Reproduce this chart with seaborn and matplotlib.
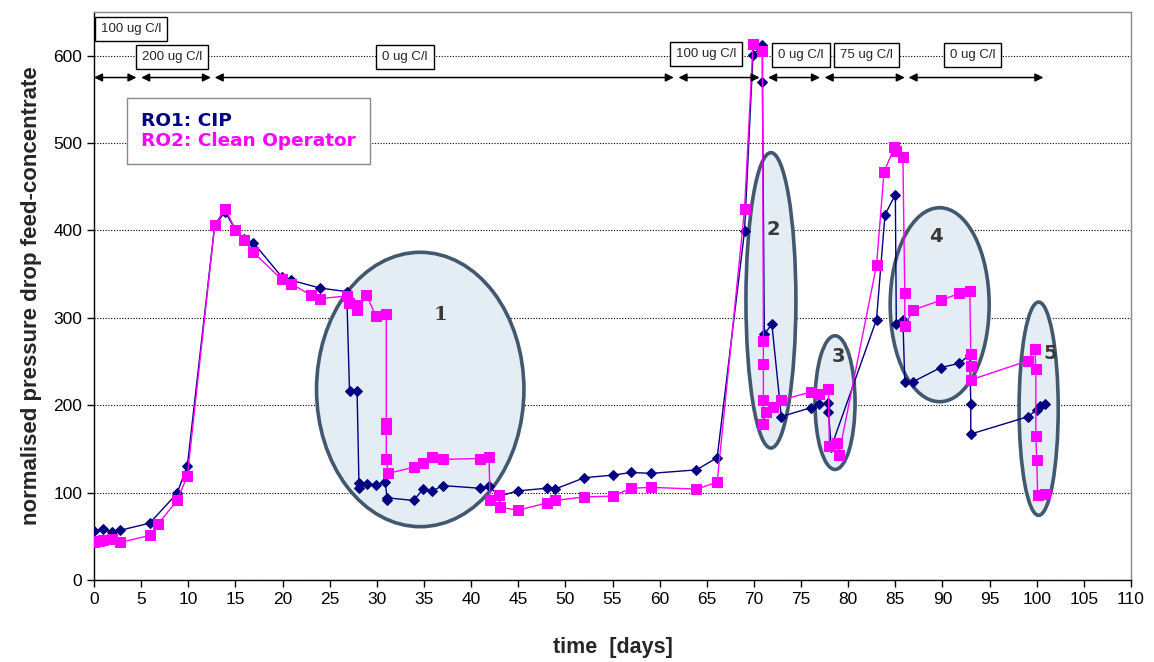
import matplotlib
matplotlib.use("Agg")
import matplotlib.pyplot as plt
from matplotlib.patches import Ellipse
from matplotlib.lines import Line2D
import seaborn as sns

# RO1 (CIP) measurements: time [days] and normalised pressure drop
ro1_days = [0, 0.9, 1.9, 2.8, 5.9, 8.8, 9.9, 12.8, 13.9, 15.0, 15.9, 16.9, 19.9, 20.9,
            24.0, 26.8, 27.1, 27.9, 28.1, 28.1, 29.0, 29.9, 30.9, 31.1, 31.1, 33.9, 34.9,
            35.9, 37.0, 40.9, 41.9, 43.0, 45.0, 48.0, 48.9, 52.0, 55.0, 57.0, 59.1, 63.9,
            66.1, 69.0, 69.9, 70.9, 70.9, 71.1, 71.9, 72.9, 76.0, 76.9, 77.9, 77.9, 78.2,
            83.0, 83.9, 85.0, 85.1, 85.8, 86.0, 86.9, 89.8, 91.8, 92.9, 93.0, 93.0, 99.1,
            100.0, 100.3, 100.9]
ro1_dp = [56, 58, 55, 57, 65, 99, 131, 406, 421, 401, 390, 386, 347, 343,
          334, 330, 216, 216, 111, 105, 110, 109, 112, 91, 94, 91, 104,
          102, 108, 105, 107, 96, 102, 105, 104, 117, 120, 123, 122, 126,
          140, 399, 601, 612, 570, 281, 293, 187, 197, 201, 202, 192, 152,
          298, 418, 441, 293, 298, 227, 227, 243, 248, 258, 201, 167, 187,
          195, 199, 201]

# RO2 (Clean Operator) measurements
ro2_days = [0, 0.5, 0.9, 1.9, 2.8, 5.9, 6.8, 8.8, 9.9, 12.8, 13.9, 15.0, 15.9, 16.9,
            19.9, 20.9, 23.0, 24.0, 26.8, 27.0, 27.9, 27.9, 28.9, 29.9, 31.0, 31.0, 31.0,
            31.0, 31.2, 33.9, 34.9, 35.9, 37.0, 40.9, 41.9, 42.0, 43.0, 43.1, 45.0, 48.0,
            48.9, 52.0, 55.0, 57.0, 59.1, 63.9, 66.1, 69.0, 69.9, 70.9, 71.0, 71.0, 71.0,
            71.0, 71.3, 72.0, 72.9, 76.0, 76.9, 77.9, 78.0, 78.8, 79.0, 83.0, 83.8, 84.9,
            85.1, 85.8, 86.0, 86.0, 86.9, 89.8, 91.8, 92.9, 93.0, 93.0, 93.0, 99.1, 99.8,
            99.9, 99.9, 100.0, 100.1, 100.9]
ro2_dp = [43, 45, 46, 47, 43, 51, 64, 91, 119, 406, 425, 401, 389, 375,
          344, 339, 326, 322, 325, 317, 315, 309, 326, 302, 304, 180, 173,
          139, 122, 129, 134, 141, 138, 139, 141, 91, 97, 83, 80, 88,
          91, 95, 96, 105, 106, 104, 112, 424, 613, 605, 274, 247, 206,
          178, 192, 198, 206, 215, 213, 219, 153, 157, 143, 360, 467, 495,
          491, 484, 328, 291, 309, 320, 328, 331, 259, 245, 229, 251, 264,
          241, 165, 137, 97, 98]

# Dosing periods (start day, end day) and their concentration labels
dose_labels = ["100 ug C/l", "200 ug C/l", "0 ug C/l", "100 ug C/l",
               "0 ug C/l", "75 ug C/l", "0 ug C/l"]
dose_start = [0, 5.0, 12.8, 62.0, 71.5, 77.5, 86.4]
dose_end = [4.5, 12.4, 61.5, 70.6, 77.0, 86.0, 100.7]

# Labels of the encircled regions
region_labels = ["1", "2", "3", "4", "5"]

assert len(ro1_days) == len(ro1_dp)
assert len(ro2_days) == len(ro2_dp)

sns.set_style("white")
plt.rcParams["font.family"] = ["Liberation Sans", "DejaVu Sans"]

fig = plt.figure(figsize=(11.54, 6.62), dpi=100)
ax = fig.add_axes([0.0815, 0.1239, 0.8986, 0.858])

NAVY = "#000080"
MAGENTA = "#FF00FF"

# encircled regions (drawn beneath the data): centre, width, height, label pos
regions = [
    ((34.6, 218), 22.0, 314, (36.7, 303), "DejaVu Serif"),
    ((71.8, 320), 5.3, 338, (72.1, 401), "DejaVu Sans"),
    ((78.6, 203), 4.25, 153, (79.0, 256), "DejaVu Sans"),
    ((89.7, 315), 10.5, 222, (89.3, 393), "DejaVu Sans"),
    ((100.2, 196), 4.15, 244, (101.4, 259), "DejaVu Sans"),
]
for lab, (centre, w, h, tpos, fam) in zip(region_labels, regions):
    ax.add_patch(Ellipse(centre, w, h, facecolor="#e4ecf4", edgecolor="#42586e",
                         linewidth=2.6, zorder=1))
    ax.text(tpos[0], tpos[1], lab, ha="center", va="center", fontsize=14,
            fontweight="bold", color="#3a3a3a", family=fam, zorder=6)

sns.lineplot(x=ro1_days, y=ro1_dp, sort=False, estimator=None, ax=ax,
             color=NAVY, linewidth=1.0, marker="D", markersize=5,
             markeredgecolor=NAVY, legend=False, zorder=3)
sns.lineplot(x=ro2_days, y=ro2_dp, sort=False, estimator=None, ax=ax,
             color=MAGENTA, linewidth=1.0, marker="s", markersize=6.5,
             markeredgecolor=MAGENTA, legend=False, zorder=4)

# dosing period arrows and labels
arrow_y = 575
box_pos = [(3.9, 631), (8.3, 598), (33.0, 598), (64.9, 602),
           (75.0, 601), (81.9, 601), (93.2, 601)]
for lab, s, e, (bx, by) in zip(dose_labels, dose_start, dose_end, box_pos):
    ax.annotate("", xy=(e, arrow_y), xytext=(s, arrow_y),
                arrowprops=dict(arrowstyle="<|-|>", color="black", lw=1.1,
                                mutation_scale=12, shrinkA=0, shrinkB=0),
                zorder=5, annotation_clip=False)
    ax.text(bx, by, lab, ha="center", va="center", fontsize=9.5, zorder=7,
            bbox=dict(boxstyle="square,pad=0.45", facecolor="white",
                      edgecolor="black", linewidth=1.0), clip_on=False)

ax.set_xlim(0, 110)
ax.set_ylim(0, 650)
ax.set_xticks(range(0, 111, 5))
ax.set_yticks(range(0, 601, 100))
ax.tick_params(axis="both", direction="out", length=5, width=1, labelsize=12.5,
               colors="black", bottom=True, left=True)
ax.yaxis.grid(True, linestyle=(0, (1, 1.5)), color="black", linewidth=0.8)
ax.xaxis.grid(False)
ax.set_axisbelow(True)

for side in ["top", "right"]:
    ax.spines[side].set_color("#8a8a8a")
    ax.spines[side].set_linewidth(1.0)
for side in ["left", "bottom"]:
    ax.spines[side].set_color("black")
    ax.spines[side].set_linewidth(1.0)

ax.set_xlabel("time  [days]", fontsize=15.5, fontweight="bold", labelpad=22)
ax.set_ylabel("normalised pressure drop feed-concentrate", fontsize=16,
              fontweight="bold", labelpad=8)

handles = [Line2D([], [], linestyle="none"), Line2D([], [], linestyle="none")]
leg = ax.legend(handles, ["RO1: CIP", "RO2: Clean Operator"], loc="upper left",
                bbox_to_anchor=(0.032, 0.849), borderaxespad=0, frameon=True,
                fancybox=False, edgecolor="#8a8a8a", framealpha=1, handlelength=0,
                handletextpad=0, borderpad=0.75, labelspacing=0.15,
                labelcolor=[NAVY, MAGENTA],
                prop={"family": "DejaVu Sans", "weight": "bold", "size": 13.3})
leg.get_frame().set_linewidth(1.0)
leg.set_zorder(8)

fig.savefig("out.png", dpi=100, facecolor="white")
